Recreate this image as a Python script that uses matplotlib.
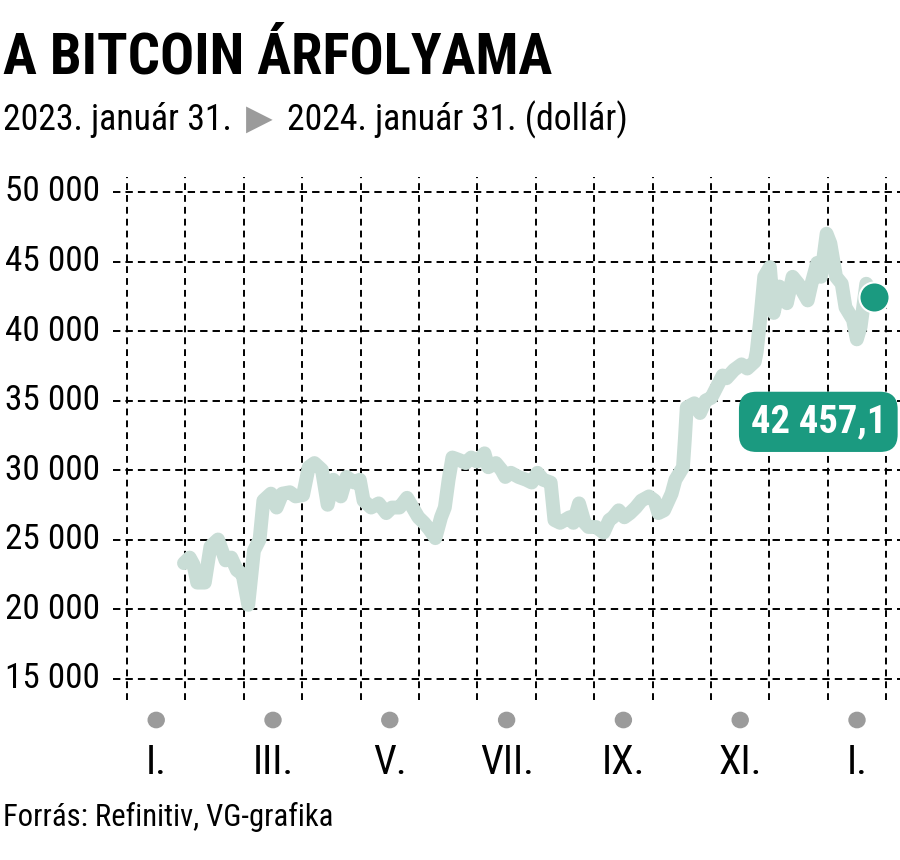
import numpy as np
import pandas as pd
import matplotlib
matplotlib.use("Agg")
import matplotlib.pyplot as plt
from matplotlib import font_manager as fm

# pick the narrowest installed sans family
names = {f.name for f in fm.fontManager.ttflist}
wanted = ["Roboto Condensed", "Liberation Sans Narrow", "Open Sans Condensed",
          "Noto Sans Condensed", "DejaVu Sans Condensed", "Roboto", "Liberation Sans"]
font = next((n for n in wanted if n in names), "DejaVu Sans")
condensed = [f for f in fm.fontManager.ttflist
             if f.stretch in ("condensed", "semi-condensed", "extra-condensed")]
stretch = "normal"
if font in ("Roboto", "Liberation Sans") and condensed:
    font = condensed[0].name
    stretch = condensed[0].stretch
plt.rcParams['font.family'] = [font, 'DejaVu Sans']
plt.rcParams['font.stretch'] = stretch

# Bitcoin closing prices (USD)
dates = [
    "2023-01-31", "2023-02-03", "2023-02-05", "2023-02-07", "2023-02-11", "2023-02-14",
    "2023-02-18", "2023-02-22", "2023-02-25", "2023-02-28", "2023-03-03", "2023-03-06",
    "2023-03-09", "2023-03-12", "2023-03-14", "2023-03-18", "2023-03-21", "2023-03-24",
    "2023-03-28", "2023-03-31", "2023-04-04", "2023-04-07", "2023-04-10", "2023-04-14",
    "2023-04-17", "2023-04-20", "2023-04-24", "2023-04-27", "2023-05-01", "2023-05-04",
    "2023-05-06", "2023-05-10", "2023-05-14", "2023-05-18", "2023-05-21", "2023-05-25",
    "2023-05-29", "2023-06-01", "2023-06-04", "2023-06-07", "2023-06-10", "2023-06-13",
    "2023-06-16", "2023-06-18", "2023-06-20", "2023-06-22", "2023-06-26", "2023-06-29",
    "2023-07-02", "2023-07-05", "2023-07-09", "2023-07-11", "2023-07-15", "2023-07-18",
    "2023-07-20", "2023-07-23", "2023-07-27", "2023-07-31", "2023-08-03", "2023-08-06",
    "2023-08-09", "2023-08-13", "2023-08-15", "2023-08-18", "2023-08-23", "2023-08-25",
    "2023-08-28", "2023-08-31", "2023-09-02", "2023-09-06", "2023-09-10", "2023-09-13",
    "2023-09-15", "2023-09-18", "2023-09-21", "2023-09-24", "2023-09-27", "2023-09-30",
    "2023-10-04", "2023-10-07", "2023-10-09", "2023-10-12", "2023-10-16", "2023-10-18",
    "2023-10-22", "2023-10-23", "2023-10-24", "2023-10-28", "2023-10-31", "2023-11-03",
    "2023-11-06", "2023-11-09", "2023-11-12", "2023-11-14", "2023-11-18", "2023-11-22",
    "2023-11-25", "2023-11-29", "2023-11-30", "2023-12-02", "2023-12-04", "2023-12-07",
    "2023-12-09", "2023-12-12", "2023-12-16", "2023-12-19", "2023-12-22", "2023-12-27",
    "2023-12-29", "2024-01-01", "2024-01-03", "2024-01-06", "2024-01-08", "2024-01-11",
    "2024-01-14", "2024-01-16", "2024-01-20", "2024-01-22", "2024-01-24", "2024-01-27",
    "2024-01-29", "2024-01-31",
]
prices = [
    23300, 23700, 23200, 21900, 21900, 24500,
    25000, 23500, 23700, 22800, 22500, 20300,
    24200, 25000, 27800, 28300, 27300, 28300,
    28400, 28100, 28200, 30200, 30500, 30000,
    27500, 29300, 28100, 29500, 29100, 29300,
    27800, 27300, 27600, 26900, 27300, 27300,
    28000, 27300, 26600, 26200, 25700, 25100,
    26600, 27300, 29300, 30900, 30700, 30500,
    30900, 30600, 31200, 30200, 30500, 30000,
    29500, 29800, 29500, 29300, 29100, 29800,
    29300, 29100, 26400, 26200, 26600, 26200,
    27600, 26200, 25900, 25900, 25500, 26400,
    26600, 27100, 26600, 26900, 27300, 27800,
    28100, 27800, 26900, 27100, 28300, 29300,
    30200, 32200, 34500, 34800, 34100, 35000,
    35200, 36000, 36800, 36600, 37200, 37600,
    37300, 37800, 38500, 41000, 43900, 44600,
    41300, 43200, 42000, 43900, 43400, 42200,
    43400, 44900, 43900, 47000, 46300, 43900,
    43400, 41700, 40800, 39400, 40300, 43400,
    43000, 42457.1,
]
y_ticks = [15000, 20000, 25000, 30000, 35000, 40000, 45000, 50000]
month_labels = ["I.", "III.", "V.", "VII.", "IX.", "XI.", "I."]
last_label = "42 457,1"

LINE = "#c9ddd6"
TEAL = "#1b9a80"
GREY = "#9b9b9b"

d = pd.to_datetime(dates)
x = (d - d[0]).days.values.astype(float)
y = np.array(prices)

W, H = 900, 860
fig = plt.figure(figsize=(W / 100, H / 100), dpi=100)
renderer = fig.canvas.get_renderer()


def fit(t, width, max_size):
    # shrink a text so that it is `width` pixels wide, at most max_size pt
    w = t.get_window_extent(renderer).width
    t.set_fontsize(min(max_size, t.get_fontsize() * width / w))
    return t


# axes box in pixels: left 113, right 900, top 177, bottom 700
ax = fig.add_axes([113 / W, 1 - 700 / H, (900 - 113) / W, (700 - 177) / H])
px_per_day = 1.89
x0_px = 184  # pixel of the first data point
ax.set_xlim((113 - x0_px) / px_per_day, (900 - x0_px) / px_per_day)
ax.set_ylim(13455, 51079)
ax.axis("off")

# dashed grid, one vertical line per month-ish column
grid_start = (127 - x0_px) / px_per_day
grid_step = 58.4 / px_per_day
vx = grid_start + grid_step * np.arange(14)
for v in vx:
    ax.axvline(v, color="black", lw=1.4, dashes=(3.5, 2.6), zorder=1)
for t in y_ticks:
    ax.axhline(t, color="black", lw=1.4, dashes=(3.8, 2.6), zorder=1)

ax.plot(x, y, color=LINE, lw=10, solid_capstyle="round", solid_joinstyle="round", zorder=2)
ax.scatter([x[-1]], [y[-1]], s=470, color=TEAL, edgecolor="white", linewidth=1.5, zorder=4)

lab = ax.annotate(last_label, xy=(x[-1], y[-1]), xytext=(-40, -90), textcoords="offset points",
                  ha="center", va="center", color="white", fontsize=34, fontweight="bold",
                  bbox=dict(boxstyle="round,pad=0.3,rounding_size=0.45", fc=TEAL, ec="none"),
                  zorder=5)
fit(lab, 136, 34)

for t in y_ticks:
    yt = ax.transData.transform((0, t))[1]
    tl = fig.text(100 / W, yt / H, f"{t:,}".replace(",", " "), ha="right", va="center",
                  fontsize=27)
    fit(tl, 95, 27)

# month markers below the plot
mid = grid_start + grid_step * (0.5 + 2 * np.arange(len(month_labels)))
month_texts = []
for m, lab_txt in zip(mid, month_labels):
    px = x0_px + m * px_per_day
    fig.add_artist(plt.Circle((px / W, 1 - 720 / H), 8 / W, transform=fig.transFigure,
                              color=GREY, clip_on=False))
    month_texts.append(fig.text(px / W, 1 - 762 / H, lab_txt, ha="center", va="center",
                                fontsize=34))
fit(month_texts[3], 54, 34)
for mt in month_texts:
    mt.set_fontsize(month_texts[3].get_fontsize())

title = fig.text(3 / W, 1 - 58 / H, "A BITCOIN ÁRFOLYAMA", fontsize=41, fontweight="bold",
                 ha="left", va="center")
fit(title, 550, 41)
s1 = fig.text(3 / W, 1 - 120 / H, "2023. január 31.", fontsize=27, ha="left", va="center")
fit(s1, 229, 27)
fig.text(259 / W, 1 - 119 / H, "\u25B6", fontsize=25, color=GREY, ha="center", va="center",
         family="DejaVu Sans")
s2 = fig.text(287 / W, 1 - 120 / H, "2024. január 31. (dollár)", fontsize=27, ha="left",
              va="center")
fit(s2, 341, 27)
src = fig.text(3 / W, 1 - 817 / H, "Forrás: Refinitiv, VG-grafika", fontsize=27, ha="left",
               va="center")
fit(src, 330, 27)

fig.savefig("out.png", dpi=100)
